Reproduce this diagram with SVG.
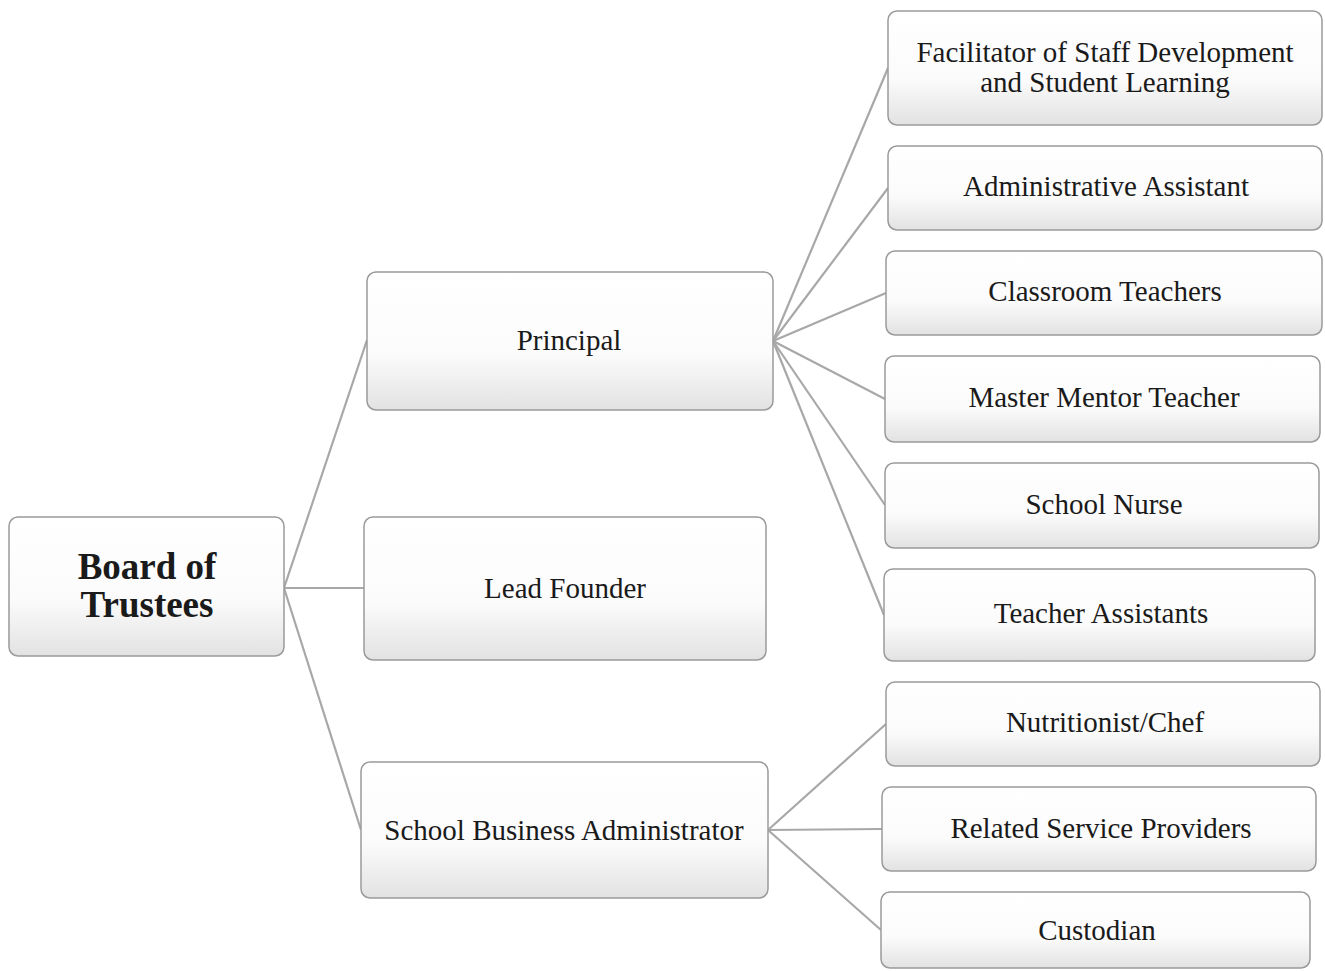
<svg xmlns="http://www.w3.org/2000/svg" width="1325" height="971" viewBox="0 0 1325 971">
<style>
.box{fill:url(#g);stroke:#9a9a9a;stroke-width:1.5}
.t{font-family:"Liberation Serif","Times New Roman",serif;font-size:29px;fill:#1a1a1a;text-anchor:middle}
.b{font-weight:bold;font-size:37px}
.c{stroke:#a8a8a8;stroke-width:2.2;fill:none}
</style>
<defs>
<linearGradient id="g" x1="0" y1="0" x2="0" y2="1">
<stop offset="0" stop-color="#ffffff"/>
<stop offset="0.6" stop-color="#fbfbfb"/>
<stop offset="1" stop-color="#e2e2e2"/>
</linearGradient>
</defs>
<rect width="1325" height="971" fill="#ffffff"/>
<g id="connectors">
<line class="c" x1="284" y1="588" x2="367" y2="340"/>
<line class="c" x1="284" y1="588" x2="364" y2="588"/>
<line class="c" x1="284" y1="588" x2="361" y2="830"/>
<line class="c" x1="773" y1="341" x2="888" y2="68"/>
<line class="c" x1="773" y1="341" x2="888" y2="188"/>
<line class="c" x1="773" y1="341" x2="886" y2="293"/>
<line class="c" x1="773" y1="341" x2="885" y2="399"/>
<line class="c" x1="773" y1="341" x2="885" y2="505"/>
<line class="c" x1="773" y1="341" x2="884" y2="615"/>
<line class="c" x1="768" y1="830" x2="886" y2="724"/>
<line class="c" x1="768" y1="830" x2="882" y2="829"/>
<line class="c" x1="768" y1="830" x2="881" y2="930"/>
</g>
<g id="board">
<rect class="box" x="9" y="517" width="275" height="139" rx="9"/>
<text class="t b" x="147" y="579">Board of</text>
<text class="t b" x="147" y="617">Trustees</text>
</g>
<g id="principal">
<rect class="box" x="367" y="272" width="406" height="138" rx="9"/>
<text class="t" x="569" y="350">Principal</text>
</g>
<g id="leadfounder">
<rect class="box" x="364" y="517" width="402" height="143" rx="9"/>
<text class="t" x="565" y="598">Lead Founder</text>
</g>
<g id="sba">
<rect class="box" x="361" y="762" width="407" height="136" rx="9"/>
<text class="t" x="564" y="840">School Business Administrator</text>
</g>
<g id="facilitator">
<rect class="box" x="888" y="11" width="434" height="114" rx="9"/>
<text class="t" x="1105" y="62">Facilitator of Staff Development</text>
<text class="t" x="1105" y="92">and Student Learning</text>
</g>
<g id="adminassistant">
<rect class="box" x="888" y="146" width="434" height="84" rx="9"/>
<text class="t" x="1106" y="196">Administrative Assistant</text>
</g>
<g id="classroom">
<rect class="box" x="886" y="251" width="436" height="84" rx="9"/>
<text class="t" x="1105" y="301">Classroom Teachers</text>
</g>
<g id="mentor">
<rect class="box" x="885" y="356" width="435" height="86" rx="9"/>
<text class="t" x="1104" y="407">Master Mentor Teacher</text>
</g>
<g id="nurse">
<rect class="box" x="885" y="463" width="434" height="85" rx="9"/>
<text class="t" x="1104" y="514">School Nurse</text>
</g>
<g id="teacherassistants">
<rect class="box" x="884" y="569" width="431" height="92" rx="9"/>
<text class="t" x="1101" y="623">Teacher Assistants</text>
</g>
<g id="nutritionist">
<rect class="box" x="886" y="682" width="434" height="84" rx="9"/>
<text class="t" x="1105" y="732">Nutritionist/Chef</text>
</g>
<g id="related">
<rect class="box" x="882" y="787" width="434" height="84" rx="9"/>
<text class="t" x="1101" y="838">Related Service Providers</text>
</g>
<g id="custodian">
<rect class="box" x="881" y="892" width="429" height="76" rx="9"/>
<text class="t" x="1097" y="940">Custodian</text>
</g>
</svg>
